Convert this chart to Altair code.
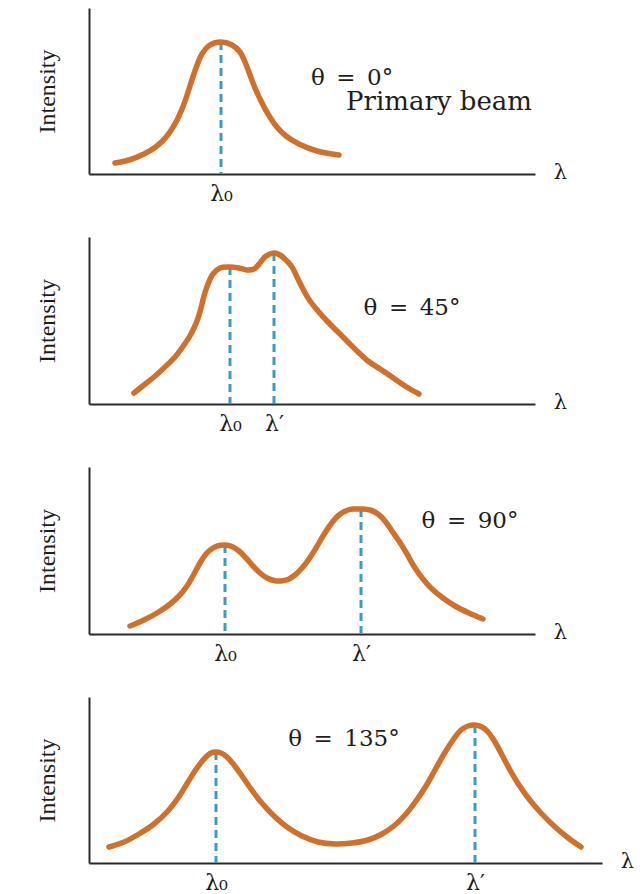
import altair as alt
import pandas as pd

ORANGE = "#cf702c"
BLUE = "#3a9cc2"
AXIS = "#2a2a2a"
TXT = "#1e1e1e"

# ---- data (λ in relative units, intensity in arbitrary units) ----
# Panel 1: θ = 0°
p1_lam = [26, 40, 55, 68, 78, 87, 95, 101, 107, 113, 121, 132, 143, 151, 156, 161, 166, 172, 179, 187, 197, 210, 228, 250]
p1_int = [11, 14, 20, 28, 38, 52, 70, 88, 106, 120, 129, 132, 129, 122, 112, 99, 86, 73, 60, 48, 38, 30, 23, 19]
p1_peak_lam = [132]
p1_peak_int = [132]
p1_peak_lab = ["λ₀"]

# Panel 2: θ = 45°
p2_lam = [45, 55, 65, 76, 86, 95, 102, 108, 112, 115, 119, 124, 131, 140, 150, 158, 165, 171, 177, 185,
          191, 197, 203, 209, 215, 221, 229, 238, 248, 258, 268, 279, 291, 303, 316, 330]
p2_int = [11, 19, 27, 37, 47, 59, 70, 83, 96, 108, 120, 130, 136, 137, 136, 134, 135, 141, 148, 151,
          149, 144, 137, 125, 113, 103, 93, 83, 73, 63, 53, 43, 35, 27, 18, 10]
p2_peak_lam = [141, 185]
p2_peak_int = [137, 151]
p2_peak_lab = ["λ₀", "λ′"]

# Panel 3: θ = 90°
p3_lam = [41, 55, 68, 80, 90, 98, 105, 111, 117, 124, 130, 136, 143, 150, 157, 164, 171, 178, 185, 192, 199, 206,
          213, 220, 227, 234, 242, 250, 259, 265, 272, 281, 289, 296, 303, 310, 318, 326, 334, 343, 354, 366, 380, 394]
p3_int = [8, 14, 21, 29, 38, 48, 60, 71, 80, 86, 88.5, 89, 87.5, 83, 76, 68, 61, 56, 53.5, 53, 54.5, 59,
          66, 75, 86, 98, 110, 119, 124, 125, 125, 124, 120, 113, 103, 93, 80, 66, 55, 45, 36, 28, 21, 15]
p3_peak_lam = [136, 272]
p3_peak_int = [89, 125]
p3_peak_lab = ["λ₀", "λ′"]

# Panel 4: θ = 135°
p4_lam = [20, 35, 50, 65, 78, 89, 99, 108, 116, 122, 127, 132, 138, 145, 153, 162, 172, 184, 198, 213, 229, 246,
          263, 279, 293, 306, 317, 327, 337, 346, 355, 364, 372, 379, 386, 393, 399, 406, 413, 421, 430, 440,
          452, 465, 478, 492]
p4_int = [16, 21, 29, 39, 51, 65, 81, 95, 105, 110, 111, 110, 106, 98, 87, 74, 61, 48, 36, 27, 21, 19,
          20, 23, 29, 38, 49, 62, 77, 93, 109, 123, 133, 137, 138, 136, 131, 121, 108, 93, 78, 64,
          50, 37, 26, 16]
p4_peak_lam = [127, 386]
p4_peak_int = [111, 138]
p4_peak_lab = ["λ₀", "λ′"]

# annotation texts
p1_notes = ["θ\u2002=\u20020°", "Primary beam"]
p2_notes = ["θ\u2002=\u200245°"]
p3_notes = ["θ\u2002=\u200290°"]
p4_notes = ["θ\u2002=\u2002135°"]

# ---- layout (positions of notes, panel sizes) ----
panels = [
    dict(lam=p1_lam, inten=p1_int, plam=p1_peak_lam, pint=p1_peak_int, plab=p1_peak_lab,
         notes=p1_notes, note_x=[263, 350], note_y=[89, 64], note_fs=[23, 26], width=446, height=166),
    dict(lam=p2_lam, inten=p2_int, plam=p2_peak_lam, pint=p2_peak_int, plab=p2_peak_lab,
         notes=p2_notes, note_x=[323], note_y=[89], note_fs=[23], width=446, height=167),
    dict(lam=p3_lam, inten=p3_int, plam=p3_peak_lam, pint=p3_peak_int, plab=p3_peak_lab,
         notes=p3_notes, note_x=[381], note_y=[106], note_fs=[23], width=446, height=167),
    dict(lam=p4_lam, inten=p4_int, plam=p4_peak_lam, pint=p4_peak_int, plab=p4_peak_lab,
         notes=p4_notes, note_x=[255], note_y=[117], note_fs=[23], width=513, height=166),
]


def make_panel(p):
    curve = pd.DataFrame({"lam": p["lam"], "inten": p["inten"]})
    peaks = pd.DataFrame({"lam": p["plam"], "inten": p["pint"]})
    notes = pd.DataFrame({"txt": p["notes"], "nx": p["note_x"], "ny": p["note_y"], "fs": p["note_fs"]})
    w, h = p["width"], p["height"]

    expr = ""
    for v, lab in zip(p["plam"], p["plab"]):
        expr += f"datum.value == {v} ? '{lab}' : "
    expr += "''"

    xsc = alt.Scale(domain=[0, w], nice=False, zero=False)
    ysc = alt.Scale(domain=[0, h], nice=False, zero=False)

    xaxis = alt.Axis(
        values=p["plam"], labelExpr=expr, ticks=False, grid=False,
        domainColor=AXIS, domainWidth=2,
        labelFont="DejaVu Serif", labelFontSize=22, labelColor=TXT, labelPadding=9,
        labelOverlap=False, labelFlush=False,
        title="λ", titleX=w + 25, titleY=-2, titleAlign="center", titleBaseline="middle",
        titleFont="DejaVu Serif", titleFontSize=21, titleFontWeight="normal", titleColor=TXT,
    )
    yaxis = alt.Axis(
        title="Intensity", labels=False, ticks=False, grid=False,
        domainColor=AXIS, domainWidth=2,
        titleFont="Liberation Serif", titleFontSize=24, titleFontWeight="normal",
        titleColor=TXT, titlePadding=30,
    )

    rules = alt.Chart(peaks).mark_rule(color=BLUE, strokeWidth=3, strokeDash=[8, 5]).encode(
        x=alt.X("lam:Q", scale=xsc, axis=xaxis),
        y=alt.Y("inten:Q", scale=ysc, axis=yaxis),
        y2=alt.datum(0),
    )
    line = alt.Chart(curve).mark_line(
        color=ORANGE, strokeWidth=5.5, interpolate="catmull-rom", strokeCap="round", strokeJoin="round"
    ).encode(x="lam:Q", y="inten:Q")
    text = alt.Chart(notes).mark_text(
        align="center", baseline="alphabetic", font="DejaVu Serif", color=TXT
    ).encode(x="nx:Q", y="ny:Q", text="txt:N", size=alt.Size("fs:Q", scale=None, legend=None))

    return alt.layer(rules, line, text).properties(width=w, height=h)


chart = alt.vconcat(*[make_panel(p) for p in panels], spacing=63, bounds="flush").properties(
    padding={"left": 27, "top": 0, "right": 2, "bottom": 0}
).configure_view(stroke=None)

chart.save("out.html", embed_options={"renderer": "svg", "actions": False})
